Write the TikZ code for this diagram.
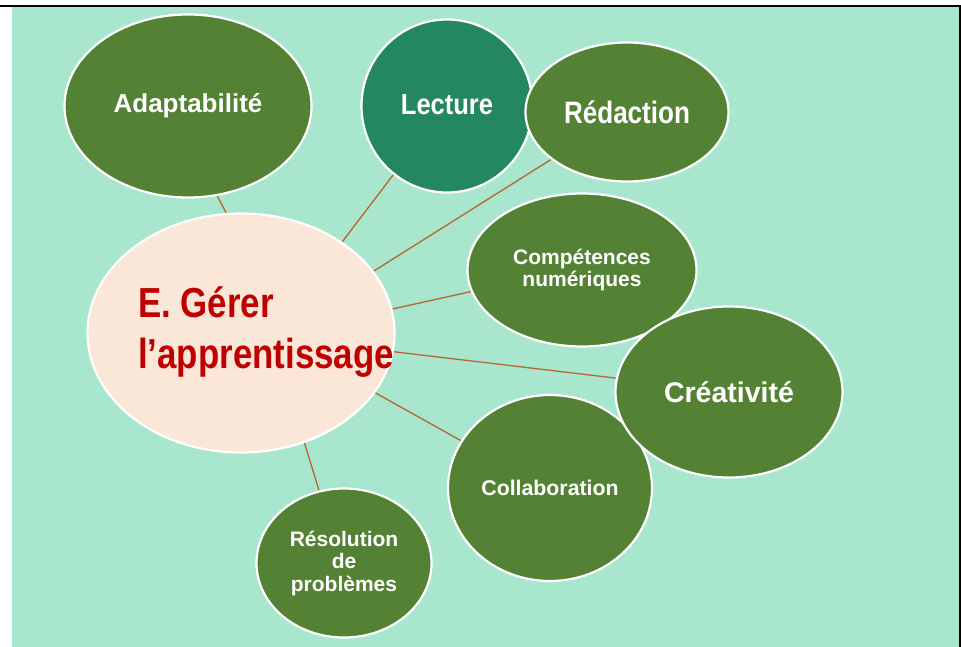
\documentclass[tikz,border=0pt]{standalone}
\usepackage{fontspec}
\setmainfont{Liberation Sans}
\usetikzlibrary{shapes.geometric}
\definecolor{bgg}{HTML}{A8E6CD}
\definecolor{dkg}{HTML}{548235}
\definecolor{tealg}{HTML}{23875F}
\definecolor{peach}{HTML}{FAE7D8}
\definecolor{redt}{HTML}{C00000}
\definecolor{linec}{HTML}{B9652D}
\pgfdeclarelayer{back}
\pgfdeclarelayer{lines}
\pgfsetlayers{back,lines,main}
\begin{document}
\begin{tikzpicture}[x=1pt,y=-1pt,
  bub/.style={ellipse, draw=white, line width=2.2pt, fill=dkg, text=white, inner sep=0pt, align=center},
  conn/.style={draw=linec, line width=1.3pt},
  ctext/.style={text=redt, inner sep=0pt, anchor=base west, font=\fontsize{42}{51}\selectfont\bfseries}]
\useasboundingbox (0,0) rectangle (961,647);

\node[bub, minimum width=247pt, minimum height=183pt, font=\fontsize{26}{28}\selectfont\bfseries] (ad) at (188,106) {Adaptabilité};
\node[bub, fill=tealg, minimum width=171pt, minimum height=173pt, font=\fontsize{29}{31}\selectfont\bfseries] (lec) at (447,106) {\raisebox{2pt}{\scalebox{0.88}[1]{Lecture}}};
\node[bub, minimum width=203pt, minimum height=139pt, font=\fontsize{31}{33}\selectfont\bfseries] (red) at (627,112) {\scalebox{0.84}[1]{Rédaction}};
\node[bub, fill=peach, minimum width=307pt, minimum height=239pt] (c) at (241,333) {};
\node[ctext] (ct1) at (138,317) {\scalebox{0.83}[1]{E. Gérer}};
\node[ctext] (ct2) at (138,368) {\scalebox{0.83}[1]{l’apprentissage}};
\node[bub, minimum width=229pt, minimum height=153pt, font=\fontsize{21}{21.5}\selectfont\bfseries] (comp) at (582,270) {Compétences\\numériques};
\node[bub, minimum width=204pt, minimum height=186pt, font=\fontsize{21.3}{23}\selectfont\bfseries] (col) at (550,488) {Collaboration};
\node[bub, minimum width=227pt, minimum height=171pt, font=\fontsize{28.5}{30}\selectfont\bfseries] (crea) at (729,392) {Créativité};
\node[bub, minimum width=175pt, minimum height=149pt, font=\fontsize{21}{22.5}\selectfont\bfseries] (res) at (344,563) {Résolution\\de\\problèmes};

\begin{pgfonlayer}{lines}
  \draw[conn] (c.97.6) -- (ad.288);
  \draw[conn] (c.42.6) -- (lec.232);
  \draw[conn] (c.25.9) -- (red.212);
  \draw[conn] (c.9.3) -- (comp.191.6);
  \draw[conn] (c.-7) -- (crea.173);
  \draw[conn] (c.-24.5) -- (col.152);
  \draw[conn] (c.-60.8) -- (res.109.4);
\end{pgfonlayer}

\begin{pgfonlayer}{back}
  \fill[white] (0,0) rectangle (961,647);
  \fill[bgg] (12,7) rectangle (959,647);
  \fill[black] (0,5) rectangle (961,7);
  \fill[black] (959,5) rectangle (961,647);
\end{pgfonlayer}
\end{tikzpicture}
\end{document}
